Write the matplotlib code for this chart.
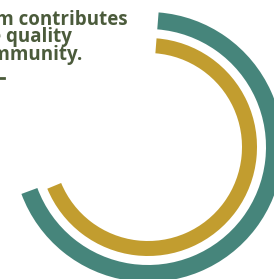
import matplotlib
matplotlib.use("Agg")
import matplotlib.pyplot as plt
from matplotlib.lines import Line2D

# ring values (share of a full circle), outer ring first
ring_names = ["outer", "inner"]
ring_values = [0.681, 0.675]
ring_colors = ["#46857b", "#c29d2f"]

# caption lines (left part falls off the canvas)
caption_lines = ["This program contributes", "to the quality", "of the community."]
caption_right = [128, 72, 82]      # right end of each line, px
caption_base = [25, 42, 60]        # baseline of each line, px

W, H = 274, 279
fig = plt.figure(figsize=(W / 100, H / 100), dpi=100)
ax = fig.add_axes([0, 0, 1, 1])

cx, cy = 148, H - 147
radii = [135, 109]
widths = [17, 15]

for val, col, r, w in zip(ring_values, ring_colors, radii, widths):
    ax.pie([val, 1 - val], colors=[col, "none"], startangle=85.5,
           counterclock=False, radius=r, center=(cx, cy),
           wedgeprops=dict(width=w, linewidth=0))

ax.set_xlim(0, W)
ax.set_ylim(0, H)
ax.set_aspect("auto")
ax.axis("off")

txt_color = "#4b5b3b"
for line, xr, yb in zip(caption_lines, caption_right, caption_base):
    ax.text(xr, H - yb, line, ha="right", va="baseline", fontsize=13.5,
            fontfamily="Open Sans", fontweight="bold", color=txt_color)

# short rule under the caption
fig.add_artist(Line2D([-30 / W, 4 / W], [1 - 78 / H, 1 - 78 / H],
                      transform=fig.transFigure, color=txt_color, lw=2))

fig.savefig("out.png", dpi=100)
